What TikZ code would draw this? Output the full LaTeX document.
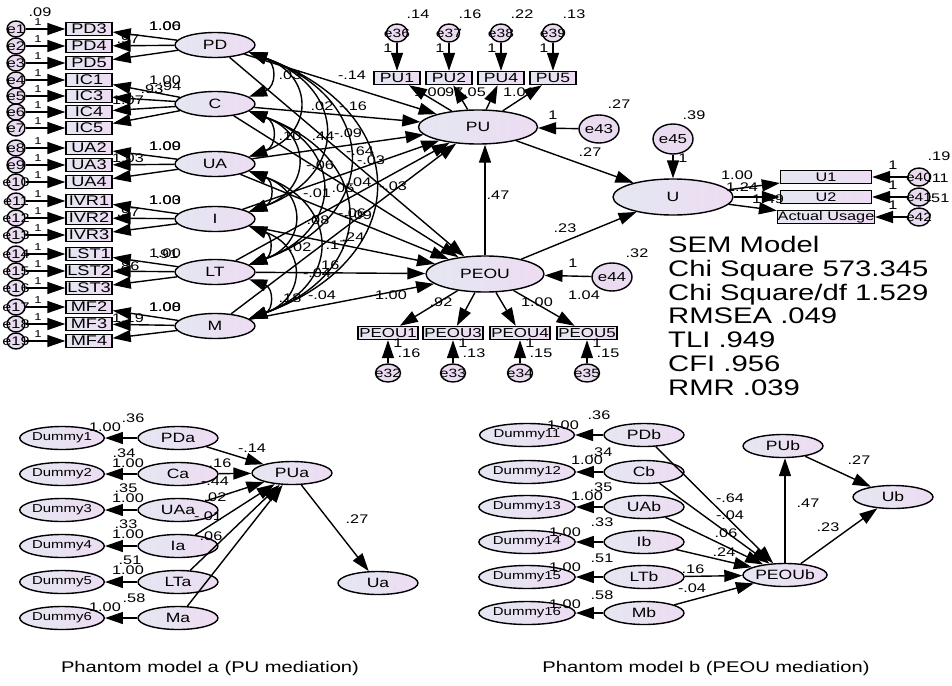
\documentclass[tikz,border=0pt]{standalone}
\usepackage{fontspec}
\setmainfont{Liberation Sans}[FakeStretch=1.3]
\usetikzlibrary{shapes.geometric,arrows.meta}

\definecolor{shL}{HTML}{E4E7F1}
\definecolor{shR}{HTML}{EDDCF3}
\definecolor{errfill}{HTML}{EBDBF1}

\newcommand\myfs[1]{\fontsize{#1}{#1}\selectfont}
\newcounter{labc}
% numeric path / variance label
\newcommand\lab[3]{\stepcounter{labc}\node[num] (lab\arabic{labc}) at (#1,#2) {#3};}

\tikzset{
  >={Triangle[length=18pt,width=12pt]},
  lat/.style={ellipse, draw, line width=1.4pt, left color=shL, right color=shR,
    minimum width=80pt, minimum height=25pt, inner sep=0pt, font=\myfs{13.5}},
  obs/.style={rectangle, draw, line width=1.4pt, left color=shL, right color=shR,
    minimum width=46pt, minimum height=13pt, inner sep=0pt, font=\myfs{14}},
  err/.style={ellipse, draw, line width=1.4pt, fill=errfill, inner sep=0pt},
  elab/.style={inner sep=0pt, font=\myfs{13}},
  reg/.style={->, line width=1.4pt},
  covar/.style={<->, line width=1.4pt},
  num/.style={inner sep=0pt, font=\myfs{12.5}},
}

\begin{document}
\begin{tikzpicture}[x=1pt,y=-1pt]
\useasboundingbox (0,0) rectangle (952,685);

% ---------------- measurement part of the exogenous constructs
\foreach \n/\y in {PD/45,C/104,UA/164,I/219,LT/272,M/326}
  \node[lat] (\n) at (215,\y) {\n};

\foreach \k/\y/\b/\l in {1/29/PD3/PD,2/46/PD4/PD,3/63/PD5/PD,
    4/80/IC1/C,5/96/IC3/C,6/112/IC4/C,7/128/IC5/C,
    8/148/UA2/UA,9/165/UA3/UA,10/182/UA4/UA,
    11/201/IVR1/I,12/218/IVR2/I,13/235/IVR3/I,
    14/254/LST1/LT,15/271/LST2/LT,16/288/LST3/LT,
    17/307/MF2/M,18/324/MF3/M,19/341/MF4/M}{
  \node[obs] (\b) at (89,\y) {\b};
  \node[err, minimum width=18pt, minimum height=16pt,
        label={[elab,font=\myfs{12.5}]center:e\k}] (e\k) at (16,\y) {};
  \node[num, font=\myfs{10}] (one\k) at (38,\y-7) {1};
  \draw[reg] (e\k) -- (\b);
  \draw[reg] (\l) -- (\b);
}
\lab{40}{12}{.09}

% loadings of the exogenous constructs
\lab{165}{26}{1.00}\lab{165}{26}{1.06}\lab{128}{39}{.97}
\lab{165}{80}{1.00}\lab{152}{89}{.93}\lab{170}{86}{.94}\lab{128}{100}{1.07}
\lab{165}{146}{1.00}\lab{165}{146}{1.09}\lab{128}{158}{1.03}
\lab{165}{200}{1.00}\lab{165}{200}{1.03}\lab{128}{212}{.97}
\lab{165}{253}{1.00}\lab{167}{254}{.91}\lab{128}{266}{.86}
\lab{165}{307}{1.00}\lab{165}{307}{1.08}\lab{128}{318}{1.19}

% ---------------- PU
\node[lat, minimum width=119pt, minimum height=34pt] (PU) at (478,127) {PU};
\foreach \b/\x/\k/\v in {PU1/397/36/.14,PU2/449/37/.16,PU4/501/38/.22,PU5/553/39/.13}{
  \node[obs, font=\myfs{13.5}] (\b) at (\x,78) {\b};
  \node[err, minimum width=21pt, minimum height=18pt,
        label={[elab,font=\myfs{12}]center:e\k}] (e\k) at (\x,33) {};
  \draw[reg] (e\k) -- (\b);
  \draw[reg] (PU) -- (\b);
  \node[num] (one\k) at (\x-9,48) {1};
  \node[num] (var\k) at (\x+21,14) {\v};
}
\lab{430}{92}{1.00}\lab{452}{92}{.97}\lab{470}{92}{1.05}\lab{519}{92}{1.01}

\node[err, minimum width=40pt, minimum height=28pt, label={[elab]center:e43}] (e43) at (599,129) {};
\draw[reg] (e43) -- (PU);
\lab{553}{115}{1}\lab{619}{104}{.27}

% ---------------- PEOU
\node[lat, minimum width=118pt, minimum height=36pt] (PEOU) at (485,274) {PEOU};
\foreach \b/\x/\k/\v in {PEOU1/388/32/.16,PEOU3/453/33/.13,PEOU4/520/34/.15,PEOU5/587/35/.15}{
  \node[obs, minimum width=60pt, font=\myfs{13}] (\b) at (\x,333) {\b};
  \node[err, minimum width=25pt, minimum height=18pt,
        label={[elab,font=\myfs{12}]center:e\k}] (e\k) at (\x,373) {};
  \draw[reg] (e\k) -- (\b);
  \draw[reg] (PEOU) -- (\b);
  \node[num] (one\k) at (\x+10,343) {1};
  \node[num] (var\k) at (\x+21,353) {\v};
}
\lab{391}{295}{1.00}\lab{441}{302}{.92}\lab{537}{302}{1.00}\lab{584}{295}{1.04}

\node[err, minimum width=40pt, minimum height=28pt, label={[elab]center:e44}] (e44) at (612,277) {};
\draw[reg] (e44) -- (PEOU);
\lab{573}{263}{1}\lab{637}{253}{.32}

\draw[reg] (PEOU.north) -- (PEOU.north |- PU.south);
\lab{498}{195}{.47}

% ---------------- U
\node[lat, minimum width=120pt, minimum height=36pt] (U) at (673,197) {U};
\node[err, minimum width=40pt, minimum height=30pt, label={[elab]center:e45}] (e45) at (673,139) {};
\draw[reg] (e45) -- (U);
\lab{683}{158}{1}\lab{694}{115}{.39}
\draw[reg] (PU) -- (U);
\draw[reg] (PEOU) -- (U);
\lab{590}{152}{.27}\lab{565}{228}{.23}

\foreach \b/\t/\y/\k in {U1/U1/177/40,U2/U2/197/41,AU/Actual Usage/217/42}{
  \node[obs, minimum width=91pt, font=\myfs{12.5}] (\b) at (826,\y) {\t};
  \node[err, minimum width=22pt, minimum height=18pt,
        label={[elab,font=\myfs{12}]center:e\k}] (e\k) at (919,\y) {};
  \draw[reg] (e\k) -- (\b);
  \draw[reg] (U) -- (\b);
  \node[num] (one\k) at (893,\y-12) {1};
}
\lab{737}{175}{1.00}\lab{742}{187}{1.24}\lab{768}{199}{1.49}
\lab{939}{156}{.19}\lab{938}{178}{.11}\lab{938}{198}{.51}

% ---------------- structural paths and covariances
\foreach \a in {PD,C,UA,I,LT,M}{
  \draw[reg] (\a) -- (PU);
  \draw[reg] (\a) -- (PEOU);
}
\foreach \a/\b in {PD/C,PD/UA,PD/I,PD/LT,PD/M,C/UA,C/I,C/LT,C/M,UA/I,UA/LT,UA/M,I/LT,I/M,LT/M}
  \draw[covar] (\a.-12) to[bend left=70, looseness=1.7] (\b.12);

\lab{290}{75}{.03}\lab{352}{75}{-.14}
\lab{322}{106}{.02}\lab{353}{106}{-.16}
\lab{290}{136}{.10}\lab{323}{136}{.44}\lab{348}{133}{-.09}
\lab{360}{151}{-.64}\lab{371}{160}{-.03}
\lab{320}{165}{-.06}\lab{360}{182}{.04}\lab{393}{186}{-.03}
\lab{317}{193}{-.01}\lab{343}{188}{.05}
\lab{318}{220}{.08}\lab{352}{213}{-.06}\lab{358}{215}{-.09}
\lab{353}{237}{.24}\lab{300}{247}{.02}\lab{337}{245}{.17}
\lab{328}{265}{.16}\lab{317}{273}{-.04}
\lab{290}{298}{.18}\lab{322}{295}{-.04}

% ---------------- fit indices
\node[anchor=north west, inner sep=0pt, align=left, font=\fontsize{22.5}{23.8}\selectfont] (fit) at (668,236)
  {SEM Model\\Chi Square 573.345\\Chi Square/df 1.529\\RMSEA .049\\TLI .949\\CFI .956\\RMR .039};

% ---------------- phantom model a
\tikzset{phl/.style={lat, minimum height=23pt}}
\foreach \k/\n/\y in {1/PDa/438,2/Ca/474,3/UAa/510,4/Ia/546,5/LTa/582,6/Ma/618}{
  \node[phl, font=\myfs{11.5}] (Dummy\k) at (62,\y) {Dummy\k};
  \node[phl] (\n) at (178,\y) {\n};
  \draw[reg] (\n) -- (Dummy\k);
}
\node[phl] (PUa) at (292,473) {PUa};
\node[phl] (Ua) at (378,583) {Ua};
\foreach \n in {PDa,Ca,UAa,Ia,LTa,Ma} \draw[reg] (\n) -- (PUa);
\draw[reg] (PUa) -- (Ua);
\lab{105}{427}{1.00}\lab{133}{418}{.36}
\lab{124}{453}{.34}\lab{128}{463}{1.00}
\lab{126}{488}{.35}\lab{128}{498}{1.00}
\lab{126}{524}{.33}\lab{128}{534}{1.00}
\lab{130}{560}{.51}\lab{128}{570}{1.00}
\lab{105}{607}{1.00}\lab{134}{598}{.58}
\lab{252}{448}{-.14}\lab{220}{463}{.16}\lab{215}{481}{-.44}
\lab{215}{497}{.02}\lab{208}{516}{-.01}\lab{211}{536}{.06}
\lab{357}{519}{.27}

% ---------------- phantom model b
\foreach \k/\n/\y in {11/PDb/435,12/Cb/472,13/UAb/507,14/Ib/542,15/LTb/577,16/Mb/613}{
  \node[phl, font=\myfs{11.5}] (Dummy\k) at (527,\y) {Dummy\k};
  \node[phl] (\n) at (644,\y) {\n};
  \draw[reg] (\n) -- (Dummy\k);
}
\node[phl] (PEOUb) at (785,575) {PEOUb};
\node[phl] (PUb) at (783,446) {PUb};
\node[phl] (Ub) at (893,497) {Ub};
\foreach \n in {PDb,Cb,UAb,Ib,LTb,Mb} \draw[reg] (\n) -- (PEOUb);
\draw[reg] (PEOUb.north) -- (PEOUb.north |- PUb.south);
\draw[reg] (PUb) -- (Ub);
\draw[reg] (PEOUb) -- (Ub);
\lab{563}{425}{1.00}\lab{599}{415}{.36}
\lab{601}{452}{.34}\lab{587}{460}{1.00}
\lab{601}{487}{.35}\lab{587}{496}{1.00}
\lab{565}{532}{1.00}\lab{602}{522}{.33}
\lab{565}{567}{1.00}\lab{602}{558}{.51}
\lab{565}{604}{1.00}\lab{602}{595}{.58}
\lab{730}{498}{-.64}\lab{730}{515}{-.04}\lab{726}{533}{.06}\lab{724}{552}{.24}
\lab{693}{569}{.16}\lab{692}{588}{-.04}
\lab{808}{503}{.47}\lab{828}{527}{.23}\lab{859}{460}{.27}

% ---------------- captions
\node[font=\myfs{15.5}, inner sep=0pt] (capa) at (210,668) {Phantom model a (PU mediation)};
\node[font=\myfs{15.5}, inner sep=0pt] (capb) at (706,668) {Phantom model b (PEOU mediation)};
\end{tikzpicture}
\end{document}
